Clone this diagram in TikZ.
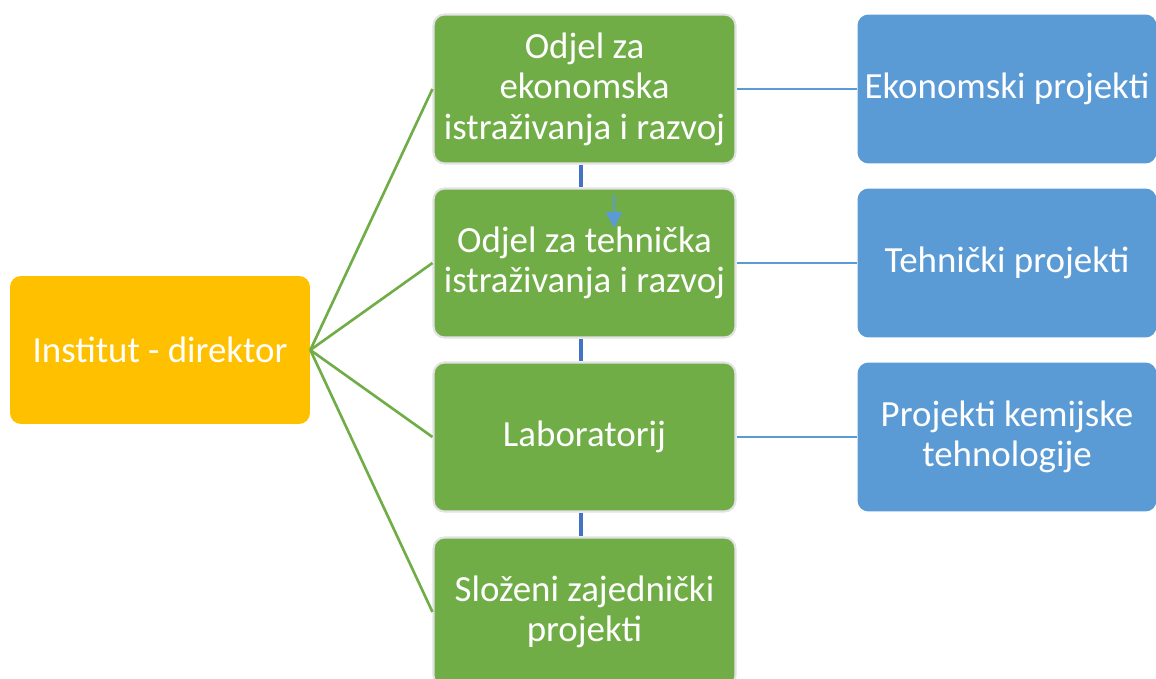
\documentclass[tikz,border=0pt]{standalone}
\usepackage{fontspec}
\setmainfont{Carlito}
\usetikzlibrary{arrows.meta}
\definecolor{diryellow}{HTML}{FFC000}
\definecolor{deptgreen}{HTML}{70AD47}
\definecolor{projblue}{HTML}{5B9BD5}
\definecolor{linkblue}{HTML}{4472C4}
\definecolor{rimgray}{HTML}{E2E2E2}

\begin{document}
\begin{tikzpicture}[x=0.02cm, y=-0.02cm,
  box/.style={rounded corners=0.22cm, text=white, align=center,
    font=\fontsize{21}{23}\selectfont, inner sep=0pt},
  dir/.style={box, fill=diryellow, minimum width=6cm, minimum height=2.96cm},
  dept/.style={box, fill=deptgreen, draw=rimgray, line width=1.2pt,
    minimum width=6.04cm, minimum height=2.98cm},
  proj/.style={box, fill=projblue, minimum width=5.98cm, minimum height=2.98cm},
  branch/.style={deptgreen, line width=1.5pt},
  side/.style={projblue, line width=1.5pt},
  chain/.style={linkblue, line width=2.3pt}]
\useasboundingbox (0,0) rectangle (1156,679);

% Director
\node[dir] (dir) at (160,350) {Institut - direktor};

% Departments
\node[dept] (eko) at (584.5,89) {Odjel za\\ekonomska\\istraživanja i razvoj};
\node[dept] (teh) at (584.5,263) {Odjel za tehnička\\istraživanja i razvoj};
\node[dept] (lab) at (584.5,437) {Laboratorij};
\node[dept] (slo) at (584.5,612) {Složeni zajednički\\projekti};

% Projects
\node[proj] (pe) at (1007,89) {Ekonomski projekti};
\node[proj] (pt) at (1007,263) {Tehnički projekti};
\node[proj] (pk) at (1007,437) {Projekti kemijske\\tehnologije};

% Director to departments
\foreach \d in {eko,teh,lab,slo}
  \draw[branch] (dir.east) -- (\d.west);

% Departments to projects
\draw[side] (eko.east) -- (pe.west);
\draw[side] (teh.east) -- (pt.west);
\draw[side] (lab.east) -- (pk.west);

% Links between departments
\draw[chain] ([xshift=-2]eko.south) -- ([xshift=-2]teh.north);
\draw[chain] ([xshift=-2]teh.south) -- ([xshift=-2]lab.north);
\draw[chain] ([xshift=-2]lab.south) -- ([xshift=-2]slo.north);

% Small arrow
\coordinate (ar1) at (614,195);
\coordinate (ar2) at (614,228);
\draw[projblue, line width=1.2pt, -{Triangle[width=9pt,length=9pt]}] (ar1) -- (ar2);
\end{tikzpicture}
\end{document}
